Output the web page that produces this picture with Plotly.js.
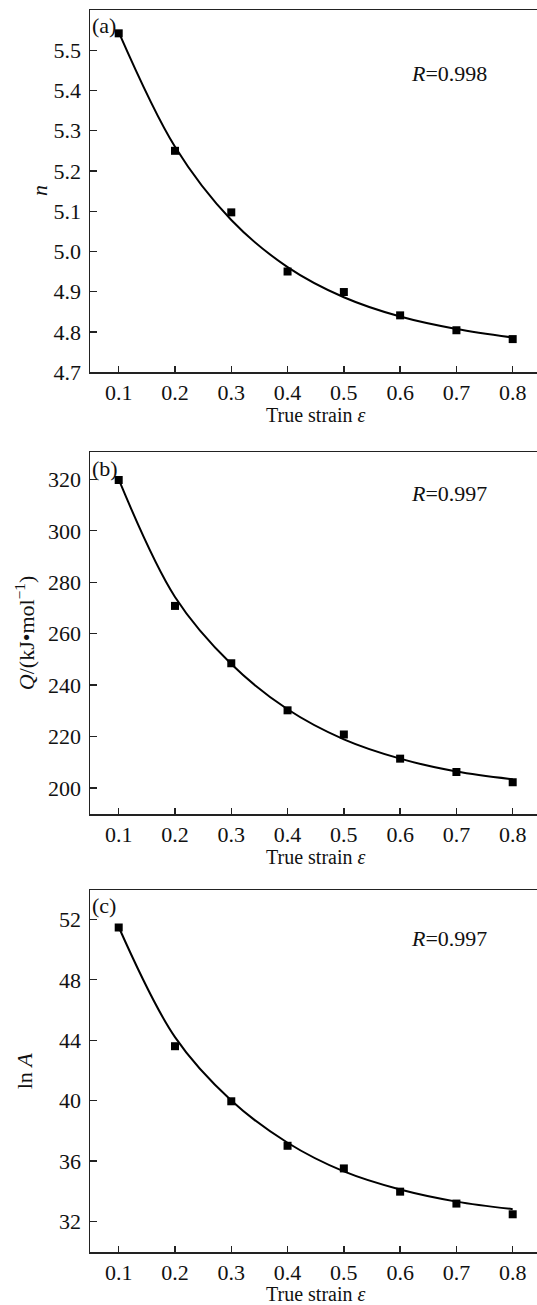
<!DOCTYPE html>
<html>
<head>
<meta charset="utf-8">
<script src="https://cdn.plot.ly/plotly-3.0.1.min.js"></script>
<style>
  html, body { margin: 0; padding: 0; background: #fff; overflow: hidden; }
  #chart { width: 545px; height: 1305px; }
</style>
</head>
<body>
<div id="chart"></div>
<script>
// ---- data ----
const strain = [0.1, 0.2, 0.3, 0.4, 0.5, 0.6, 0.7, 0.8];

const nValues = [5.542, 5.250, 5.097, 4.950, 4.899, 4.841, 4.804, 4.782];
const nFit    = [5.545, 5.260, 5.078, 4.961, 4.886, 4.838, 4.807, 4.786];

const qValues = [319.8, 270.8, 248.5, 230.2, 220.8, 211.4, 206.2, 202.2];
const qFit    = [320.0, 274.3, 248.2, 230.6, 218.9, 211.4, 206.4, 203.4];

const lnAValues = [51.47, 43.6, 39.95, 37.0, 35.5, 33.96, 33.17, 32.46];
const lnAFit    = [51.5, 44.2, 40.0, 37.2, 35.3, 34.1, 33.3, 32.8];

const rLabels = ["0.998", "0.997", "0.997"];
const panelLabels = ["(a)", "(b)", "(c)"];

// ---- layout geometry (pixels) ----
const W = 545, H = 1305;
const L = 90, R = 5, T = 10, B = 53.3;
const plotW = W - L - R, plotH = H - T - B;
const px = x => (x - L) / plotW;
const py = y => (H - B - y) / plotH;

const panels = [
  {top: 10, bottom: 372, yr: [4.7, 5.6], dtick: 0.1, tick0: 4.7, fmt: '.1f',
   vals: nValues, fit: nFit, title: '<i>n</i>', tx: 39, ty: 191, rY: 73, lY: 25, xtY: 415},
  {top: 452.3, bottom: 814, yr: [189.8, 330.5], dtick: 20, tick0: 200, fmt: 'd',
   vals: qValues, fit: qFit, title: '<i>Q</i>/(kJ•mol<sup>−1</sup>)', tx: 25, ty: 633, rY: 493, lY: 468, xtY: 857},
  {top: 890, bottom: 1251.7, yr: [29.96, 53.94], dtick: 4, tick0: 32, fmt: 'd',
   vals: lnAValues, fit: lnAFit, title: 'ln <i>A</i>', tx: 24, ty: 1071, rY: 938, lY: 905, xtY: 1294}
];

const font = 'Liberation Serif, Times New Roman, serif';
const traces = [];
const layout = {
  width: W, height: H,
  margin: {l: L, r: R, t: T, b: B},
  paper_bgcolor: '#fff', plot_bgcolor: '#fff',
  showlegend: false,
  font: {family: font, size: 20, color: '#111'},
  annotations: []
};

panels.forEach((p, i) => {
  const sfx = i === 0 ? '' : String(i + 1);
  const xa = 'x' + sfx, ya = 'y' + sfx;
  traces.push({
    x: strain, y: p.fit, xaxis: xa, yaxis: ya, mode: 'lines',
    line: {color: '#000', width: 2, shape: 'spline', smoothing: 1.0},
    hoverinfo: 'skip'
  });
  traces.push({
    x: strain, y: p.vals, xaxis: xa, yaxis: ya, mode: 'markers',
    marker: {symbol: 'square', size: 8, color: '#000'}
  });
  const axCommon = {
    showline: true, linecolor: '#222', linewidth: 1.5, mirror: true,
    ticks: 'inside', ticklen: 7, tickwidth: 1.3, tickcolor: '#222',
    showgrid: false, zeroline: false,
    tickfont: {family: font, size: 22, color: '#111'}
  };
  layout['xaxis' + sfx] = Object.assign({}, axCommon, {
    anchor: ya, domain: [0, 1], range: [0.049, 0.8485],
    tickmode: 'linear', tick0: 0.1, dtick: 0.1, tickformat: '.1f', ticklen: 6,
    ticklabelstandoff: 0
  });
  layout['yaxis' + sfx] = Object.assign({}, axCommon, {
    anchor: xa, domain: [py(p.bottom), py(p.top)], range: p.yr,
    tickmode: 'linear', tick0: p.tick0, dtick: p.dtick, tickformat: p.fmt,
    ticklabelstandoff: 3
  });
  layout.annotations.push({
    xref: 'paper', yref: 'paper', x: px(p.tx), y: py(p.ty),
    text: p.title, showarrow: false, textangle: -90,
    xanchor: 'center', yanchor: 'middle',
    font: {family: font, size: 22, color: '#111'}
  });
  layout.annotations.push({
    xref: 'paper', yref: 'paper', x: px(315), y: py(p.xtY),
    text: 'True strain <i>ε</i>', showarrow: false,
    xanchor: 'center', yanchor: 'middle',
    font: {family: font, size: 20, color: '#111'}
  });
  layout.annotations.push({
    xref: 'paper', yref: 'paper', x: px(409), y: py(p.rY),
    text: '<i>R</i>=' + rLabels[i], showarrow: false,
    xanchor: 'left', yanchor: 'middle',
    font: {family: font, size: 22, color: '#111'}
  });
  layout.annotations.push({
    xref: 'paper', yref: 'paper', x: px(90), y: py(p.lY),
    text: panelLabels[i], showarrow: false,
    xanchor: 'left', yanchor: 'middle',
    font: {family: font, size: 22, color: '#111'}
  });
});

Plotly.newPlot('chart', traces, layout, {staticPlot: true, displayModeBar: false});
</script>
</body>
</html>
